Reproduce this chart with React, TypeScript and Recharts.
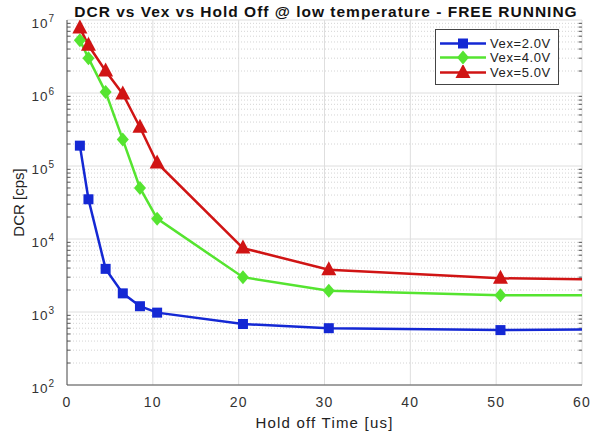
import { LineChart, Line, XAxis, YAxis, CartesianGrid, ReferenceLine, Legend } from 'recharts';

const HOLD_OFF = [1.5, 2.5, 4.5, 6.5, 8.5, 10.5, 20.5, 30.5, 50.5, 60];
const DCR_2V = [190000, 35000, 3900, 1800, 1200, 980, 685, 600, 565, 575];
const DCR_4V = [5300000, 3000000, 1030000, 230000, 50000, 19000, 3000, 1950, 1700, 1700];
const DCR_5V = [7800000, 4500000, 2000000, 970000, 340000, 110000, 7500, 3800, 2900, 2800];

const X_TICKS = [0, 10, 20, 30, 40, 50, 60];
const Y_TICKS = [1e2, 1e3, 1e4, 1e5, 1e6, 1e7];
const MINOR_STEPS = [2, 3, 4, 5, 6, 7, 8, 9];
const Y_MINOR = Y_TICKS.slice(0, -1).flatMap((d) => MINOR_STEPS.map((m) => m * d));

const BLUE = '#1428d4';
const GREEN = '#55e430';
const RED = '#d01414';
const AXIS = '#555';
const FONT = 'Arial, Liberation Sans, sans-serif';

const SERIES = [
  { key: 'v2', name: 'Vex=2.0V', color: BLUE, shape: 'square' },
  { key: 'v4', name: 'Vex=4.0V', color: GREEN, shape: 'diamond' },
  { key: 'v5', name: 'Vex=5.0V', color: RED, shape: 'triangle' },
];

const data = HOLD_OFF.map((x, i) => ({ x, v2: DCR_2V[i], v4: DCR_4V[i], v5: DCR_5V[i] }));
const LAST = HOLD_OFF.length - 1;

function Marker({ shape, cx, cy, color }: { shape: string; cx: number; cy: number; color: string }) {
  if (shape === 'square') return <rect x={cx - 5} y={cy - 5} width={10} height={10} fill={color} />;
  if (shape === 'diamond')
    return <polygon points={`${cx},${cy - 7} ${cx + 6},${cy} ${cx},${cy + 7} ${cx - 6},${cy}`} fill={color} />;
  return <polygon points={`${cx},${cy - 8.5} ${cx + 7.5},${cy + 5.5} ${cx - 7.5},${cy + 5.5}`} fill={color} />;
}

function makeDot(shape: string, color: string) {
  return (props: any) => {
    const { cx, cy, index } = props;
    if (index === LAST || cx == null || cy == null) return <g key={`d-${index}`} />;
    return (
      <g key={`d-${index}`}>
        <Marker shape={shape} cx={cx} cy={cy} color={color} />
      </g>
    );
  };
}

function PowerTick(props: any) {
  const { x, y, payload } = props;
  const exp = Math.round(Math.log10(payload.value));
  return (
    <text x={x - 4} y={y + 8} textAnchor="end" fill="#333" fontSize={13.5} fontFamily={FONT} letterSpacing={1}>
      <tspan>10</tspan>
      <tspan dy={-6} fontSize={10}>{exp}</tspan>
    </text>
  );
}

function LegendBox() {
  return (
    <div
      style={{
        background: '#fff',
        border: '1px solid #444',
        width: 122,
        height: 52,
        boxSizing: 'content-box',
        padding: '1px 0',
        fontFamily: FONT,
        fontSize: 13,
        letterSpacing: 0.6,
        color: '#222',
      }}
    >
      {SERIES.map((s) => (
        <div key={s.key} style={{ display: 'flex', alignItems: 'center', height: 14.5, marginTop: s.key === 'v2' ? 5 : 0 }}>
          <svg width={54} height={15}>
            <line x1={4} y1={7.5} x2={50} y2={7.5} stroke={s.color} strokeWidth={2.5} />
            <Marker shape={s.shape} cx={27} cy={7.5} color={s.color} />
          </svg>
          <span>{s.name}</span>
        </div>
      ))}
    </div>
  );
}

export default function App() {
  return (
    <div style={{ position: 'absolute', left: 0, top: 0, width: 591, height: 436, background: '#fff' }}>
      <div
        style={{
          position: 'absolute',
          left: 56,
          top: 3,
          width: 540,
          textAlign: 'center',
          fontFamily: FONT,
          fontWeight: 'bold',
          fontSize: 15.5,
          letterSpacing: 1,
          lineHeight: '18px',
          color: '#111',
          whiteSpace: 'nowrap',
        }}
      >
        DCR vs Vex vs Hold Off @ low temperature - FREE RUNNING
      </div>
      <LineChart width={591} height={436} data={data} margin={{ top: 20, right: 9, left: 0, bottom: 0 }}>
        <CartesianGrid stroke="#dedede" strokeWidth={1} />
        {Y_MINOR.map((v) => (
          <ReferenceLine key={`m${v}`} y={v} stroke="#d4d4d4" strokeDasharray="1 2" />
        ))}
        {Y_MINOR.map((v) => (
          <ReferenceLine key={`tl${v}`} segment={[{ x: 0, y: v }, { x: 0.4, y: v }]} stroke={AXIS} />
        ))}
        {Y_MINOR.map((v) => (
          <ReferenceLine key={`tr${v}`} segment={[{ x: 59.6, y: v }, { x: 60, y: v }]} stroke={AXIS} />
        ))}
        <XAxis
          dataKey="x"
          type="number"
          domain={[0, 60]}
          ticks={X_TICKS}
          allowDataOverflow
          height={51}
          tickLine={false}
          tickMargin={6}
          axisLine={{ stroke: AXIS }}
          tick={{ fill: '#333', fontSize: 14, fontFamily: FONT, letterSpacing: 1.2 }}
          label={{
            value: 'Hold off Time [us]',
            position: 'insideBottom',
            offset: 8,
            fill: '#222',
            fontSize: 15,
            letterSpacing: 1.2,
            fontFamily: FONT,
          }}
        />
        <XAxis
          xAxisId="top"
          orientation="top"
          dataKey="x"
          type="number"
          domain={[0, 60]}
          ticks={X_TICKS}
          height={0}
          tick={false}
          tickLine={false}
          axisLine={{ stroke: AXIS }}
        />
        <YAxis
          scale="log"
          domain={[100, 1e7]}
          ticks={Y_TICKS}
          allowDataOverflow
          width={67}
          tickLine={false}
          axisLine={{ stroke: AXIS }}
          tick={<PowerTick />}
          label={{
            value: 'DCR [cps]',
            angle: -90,
            position: 'insideLeft',
            offset: 19,
            fill: '#222',
            fontSize: 15,
            fontFamily: FONT,
            style: { textAnchor: 'middle' },
          }}
        />
        <YAxis
          yAxisId="right"
          orientation="right"
          scale="log"
          domain={[100, 1e7]}
          ticks={Y_TICKS}
          width={0}
          tick={false}
          tickLine={false}
          axisLine={{ stroke: AXIS }}
        />
        {SERIES.map((s) => (
          <Line
            key={s.key}
            dataKey={s.key}
            name={s.name}
            type="linear"
            stroke={s.color}
            strokeWidth={2.5}
            dot={makeDot(s.shape, s.color)}
            activeDot={false}
            isAnimationActive={false}
          />
        ))}
        <Legend
          layout="horizontal"
          verticalAlign="middle"
          align="center"
          content={<LegendBox />}
          wrapperStyle={{ position: 'absolute', left: 435, top: 29, width: 124, height: 56 }}
        />
      </LineChart>
    </div>
  );
}
